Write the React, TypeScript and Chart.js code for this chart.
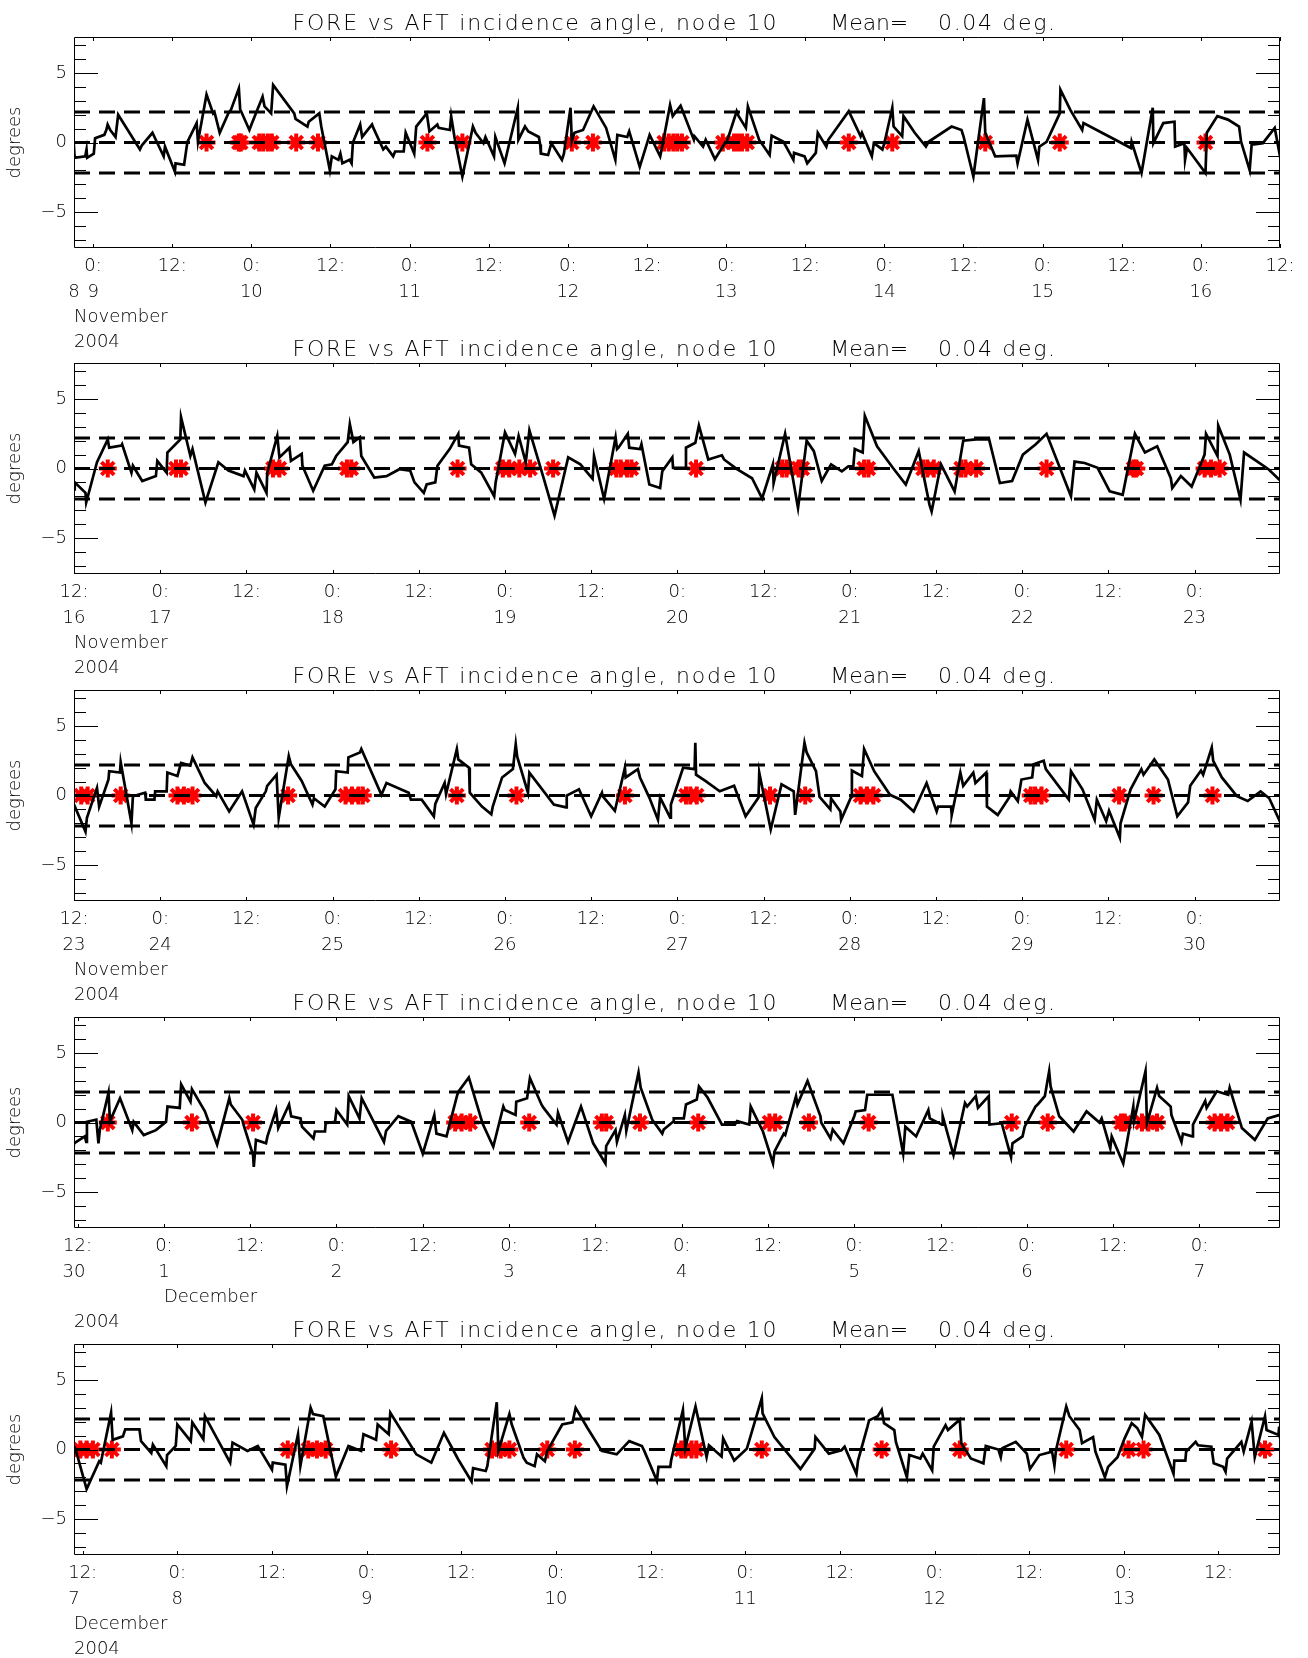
import { useEffect, useRef } from "react";
import { Chart, registerables } from "chart.js";

Chart.register(...registerables);

// ---------------- data (hours since 2004-11-08 00:00, degrees) ----------------
const p1Trace: [number, number][] = [
  [21.06, 0.0], [21.2, -1.1], [22.8, -1.0], [23.0, -0.5], [23.1, -1.1], [24.1, -0.8], [24.3, 0.3], [25.7, 0.55],
  [26.0, 0.9], [26.2, 1.3], [26.6, 0.9], [27.4, 0.4], [27.8, 2.0], [31.1, -0.5], [31.4, -0.2], [33.0, 0.7],
  [33.5, 0.2], [34.7, -1.0], [34.9, -0.3], [36.4, -2.1], [36.5, -1.5], [37.8, -1.6], [38.1, -0.6], [38.3, 0.05],
  [39.7, 1.4], [39.9, 0.05], [41.2, 3.45], [42.2, 2.1], [42.4, 2.2], [43.2, 0.7], [44.5, 2.1], [44.9, 2.35],
  [46.1, 3.9], [46.3, 2.4], [47.7, 0.9], [48.1, 1.4], [49.7, 3.3], [50.0, 2.6], [51.0, 2.1], [51.3, 4.15],
  [54.5, 2.1], [54.7, 1.7], [56.5, 1.15], [56.7, 1.5], [58.3, 2.1], [58.6, 1.15], [59.9, -2.0], [60.2, -1.0],
  [61.2, -1.25], [61.5, -0.8], [61.8, -1.5], [62.9, -1.25], [63.2, -1.5], [63.4, 0.0], [64.5, 1.3], [64.8, 0.4],
  [66.3, 1.3], [66.5, 1.05], [68.0, -0.5], [68.4, -0.3], [69.5, -1.0], [69.8, -0.65], [71.1, -0.65], [71.4, 0.7],
  [72.7, -0.8], [73.0, 1.15], [74.6, 2.1], [75.0, 0.8], [76.2, 1.3], [76.4, 1.05], [78.1, 0.9], [78.3, 1.9],
  [78.8, 0.4], [80.0, -2.45], [81.6, 1.15], [82.0, 0.7], [83.2, -0.05], [83.5, 0.4], [84.8, -1.0], [85.0, 0.4],
  [86.4, -1.5], [88.4, 2.5], [88.5, 0.2], [89.5, 1.15], [90.0, 0.8], [91.6, 0.4], [91.8, -0.15], [91.9, -0.8],
  [93.0, -0.9], [93.5, -0.05], [95.1, -1.25], [95.4, -0.8], [96.4, 2.5], [96.6, 0.1], [97.0, 0.7], [98.3, 0.9],
  [99.9, 2.6], [101.8, 1.05], [103.2, -1.25], [103.5, 0.55], [105.0, 0.4], [105.3, 0.8], [106.9, -1.75], [108.4, 0.55],
  [110.0, -1.0], [110.3, -0.3], [111.5, 2.7], [111.9, 1.9], [113.1, 2.65], [115.1, 0.2], [115.2, 0.45], [116.5, -0.3],
  [116.9, 0.2], [118.3, -1.2], [119.8, -0.05], [120.1, 0.05], [121.6, 2.25], [121.9, 1.9], [123.0, 1.05], [123.3, 2.6],
  [125.0, 0.2], [126.6, -0.9], [126.9, 0.5], [128.7, 0.05], [130.2, -1.25], [130.3, -0.75], [131.9, -1.0], [132.3, -1.5],
  [133.6, -0.75], [133.9, 0.7], [135.2, -0.3], [135.5, 0.2], [138.6, 2.25], [140.4, 0.45], [140.6, 0.7], [142.1, -1.0],
  [142.4, -0.05], [143.7, -0.5], [144.0, -0.05], [145.2, 2.5], [145.4, 1.15], [146.7, 0.45], [146.9, 1.9], [148.6, 0.7],
  [150.3, -0.3], [150.7, 0.05], [154.2, 1.15], [155.7, 0.9], [156.0, 0.45], [157.5, -2.45], [159.1, 3.2], [159.3, 0.7],
  [160.8, -1.0], [164.0, -0.95], [164.2, -1.5], [165.7, 1.65], [167.3, -1.25], [167.5, -0.3], [168.6, 0.05], [170.6, 2.1],
  [170.7, 3.8], [172.2, 2.35], [174.0, 0.9], [174.2, 1.4], [181.4, -0.4], [181.5, 0.05], [183.0, -2.2], [184.7, 2.5],
  [184.8, -0.05], [186.3, 1.4], [188.0, 1.5], [188.1, -0.3], [189.5, -0.05], [189.6, -1.25], [189.9, -0.4], [192.7, -2.2],
  [192.9, 0.7], [194.5, 1.9], [196.1, 1.65], [197.8, 1.15], [198.1, 0.05], [199.4, -2.0], [199.7, -0.15], [201.4, -0.05],
  [203.2, 1.05], [204.2, -1.5],
];
const p1Flags = [41.2, 46.1, 46.4, 49.2, 49.8, 50.5, 51.1, 54.8, 58.1, 74.7, 80.0, 96.6, 99.8, 110.6, 111.3, 112.0,
  112.6, 113.3, 119.5, 121.2, 121.8, 122.4, 123.2, 138.6, 145.2, 159.3, 170.6, 192.7];

const p2Trace: [number, number][] = [
  [204.0, -1.5], [204.1, -1.0], [205.6, -1.75], [205.7, -2.45], [207.2, 0.45], [208.7, 2.1], [208.9, 1.5], [210.6, 1.65],
  [210.7, 1.75], [212.0, -0.3], [212.2, 0.2], [213.5, -0.9], [215.4, -0.55], [215.6, 0.55], [216.9, -0.3], [217.0, 1.15],
  [218.8, 2.1], [218.9, 3.7], [220.2, 0.9], [220.5, 1.4], [222.3, -2.45], [224.1, 0.45], [225.5, -0.15], [227.6, -0.55],
  [227.8, -0.15], [229.1, -1.5], [229.4, -0.3], [230.8, -1.75], [230.9, -0.3], [232.3, 2.35], [232.6, 0.8], [234.0, 1.5],
  [234.2, 0.55], [235.7, 1.05], [235.8, 0.2], [237.3, -1.6], [238.9, 0.2], [239.9, 0.3], [240.5, 0.9], [242.1, 1.9],
  [242.4, 3.2], [242.9, 1.9], [243.8, 2.25], [244.0, 0.9], [245.8, -0.65], [247.5, -0.55], [249.3, -0.05], [250.8, -0.15],
  [251.4, -1.0], [252.7, -1.75], [253.1, -1.15], [254.3, -1.0], [254.6, 0.2], [256.3, 1.4], [257.5, 2.5], [257.6, 1.65],
  [259.0, 1.5], [259.3, 0.3], [260.7, -0.3], [262.5, -2.0], [262.7, -1.0], [264.0, 2.6], [265.4, 1.05], [265.9, 2.35],
  [266.9, 0.45], [267.4, 2.75], [269.3, -0.55], [270.9, -3.4], [272.8, 0.8], [274.5, 0.3], [276.2, -0.75], [276.4, 0.9],
  [277.8, -2.2], [279.4, 2.25], [279.6, 1.4], [279.8, 1.5], [281.1, 2.5], [281.3, 1.5], [282.8, 1.4], [283.0, 1.75],
  [284.1, -1.15], [285.6, -1.4], [285.9, -0.2], [287.3, 0.8], [287.4, 0.05], [289.1, 0.05], [289.2, 1.5], [290.5, 1.85],
  [291.0, 3.1], [292.3, 0.65], [294.2, 0.95], [294.5, 0.65], [296.3, -0.05], [298.4, -0.7], [299.8, -2.15], [301.3, 0.3],
  [301.4, -1.05], [303.0, 2.5], [304.8, -2.85], [306.0, 2.0], [307.0, 1.25], [308.1, -0.9], [309.4, 0.3], [310.9, -0.2],
  [311.8, 0.15], [312.5, 0.15], [312.7, 1.4], [313.8, 1.15], [314.1, 3.8], [315.8, 1.6], [318.0, 0.05], [319.8, -1.15],
  [321.6, 1.25], [323.1, -2.6], [323.4, -3.1], [324.5, -0.2], [324.7, 0.3], [326.6, -1.65], [327.8, 2.0], [329.6, 2.1],
  [331.4, 2.1], [332.9, -1.05], [334.6, -0.9], [336.1, 1.0], [337.9, 1.75], [339.4, 2.5], [342.8, -2.0], [343.3, 0.5],
  [344.7, 0.4], [346.5, 0.05], [348.2, -1.65], [350.0, -1.9], [351.7, 2.5], [353.1, 1.15], [354.8, 1.6], [356.7, -0.7],
  [356.9, -1.4], [358.1, -0.55], [359.6, -1.3], [361.4, 1.0], [361.6, 2.5], [363.2, 0.9], [363.3, 3.1], [364.9, 1.0],
  [366.4, -2.25], [366.9, 1.15], [370.3, -0.05], [371.8, -0.8], [372.0, -0.85],
];
const p2Flags = [208.7, 218.2, 218.9, 231.7, 232.6, 242.0, 242.6, 257.4, 263.7, 264.6, 266.0, 267.5, 270.7, 279.5,
  280.1, 281.0, 281.6, 290.6, 302.6, 303.2, 304.9, 305.4, 314.0, 314.6, 322.2, 322.8, 323.7, 327.5, 328.1, 329.6,
  339.4, 351.5, 351.9, 361.4, 362.3, 363.5];

const p3Trace: [number, number][] = [
  [372.0, -0.65], [373.6, -2.6], [373.8, -1.6], [375.2, 0.55], [375.5, -0.8], [376.8, 1.15], [376.9, 1.75], [378.4, 1.65],
  [378.5, 2.4], [380.0, -2.0], [380.2, -0.05], [381.9, 0.2], [382.0, -0.3], [383.2, -0.3], [383.3, 0.3], [384.9, 0.3],
  [385.0, 1.65], [386.4, 1.4], [386.9, 2.35], [388.2, 2.15], [388.5, 2.75], [390.2, 0.9], [391.8, -0.05], [392.0, 0.3],
  [393.6, -1.15], [395.4, 0.3], [397.0, -2.1], [397.3, -0.9], [398.7, 0.3], [398.9, 0.7], [400.2, 1.5], [400.5, -1.6],
  [401.9, 2.85], [402.2, 2.25], [403.7, 1.05], [405.2, -0.65], [405.4, -0.2], [406.9, -0.8], [408.4, 0.45], [408.5, 1.75],
  [410.1, 1.65], [410.2, 2.75], [411.8, 3.1], [412.0, 3.35], [414.8, 0.05], [415.5, 0.9], [418.6, 0.2], [418.9, -0.3],
  [420.4, -0.3], [422.1, -1.5], [422.3, -0.6], [423.6, 0.9], [423.8, 0.1], [425.3, 3.35], [425.5, 2.6], [427.0, 2.0],
  [427.1, 0.2], [428.8, -0.8], [430.1, -1.35], [430.3, -0.8], [431.6, 1.3], [433.1, 1.9], [433.5, 3.7], [433.7, 2.8],
  [435.2, 0.2], [435.4, 1.65], [438.8, -0.65], [440.5, -0.85], [440.6, 0.0], [442.3, 0.45], [444.0, -1.5], [445.5, 0.2],
  [445.6, -0.05], [447.3, -1.1], [448.7, 2.0], [448.8, 1.3], [450.5, 1.9], [450.8, 1.3], [452.1, -0.15], [453.3, -1.75],
  [453.6, -0.15], [455.0, -1.6], [455.1, -0.65], [456.8, 2.0], [458.4, 1.9], [458.5, 3.8], [458.6, 1.5], [459.9, 1.05],
  [461.9, 0.3], [463.9, 0.7], [465.5, -1.5], [467.3, -0.15], [467.4, 1.65], [469.0, -2.45], [470.5, 0.8], [472.2, 0.3],
  [472.4, -1.4], [473.7, 3.8], [474.0, 3.1], [475.3, 1.75], [475.8, -0.1], [477.3, -1.0], [477.4, -0.2], [478.7, -1.15],
  [478.8, -1.75], [480.2, -0.1], [480.3, 1.8], [481.7, 1.4], [482.0, 3.35], [483.4, 1.75], [485.6, 0.05], [487.1, -0.3],
  [488.9, -1.15], [490.7, 0.9], [492.1, -1.15], [492.3, -0.8], [494.1, -0.8], [494.2, -1.4], [495.4, 1.65], [495.8, 0.7],
  [497.2, 1.65], [497.5, 0.9], [499.0, 1.65], [499.1, -0.8], [500.6, -1.4], [502.2, -0.15], [502.4, 0.3], [503.4, -0.4],
  [503.9, 1.15], [505.4, 1.3], [505.6, 2.25], [507.0, 2.5], [507.3, 1.9], [510.5, -0.3], [510.8, 1.75], [512.4, 0.45],
  [514.1, -1.75], [514.4, -0.3], [515.7, -1.85], [516.1, -1.1], [517.6, -3.05], [517.7, -2.0], [519.1, 0.45], [520.6, 1.9],
  [520.9, 1.5], [522.4, 2.6], [524.3, 1.15], [525.6, -1.5], [527.1, -0.5], [527.4, 0.7], [528.9, 1.8], [529.2, 1.5],
  [530.4, 3.45], [530.6, 2.5], [531.8, 1.3], [533.9, -0.05], [535.4, -0.4], [537.2, 0.3], [538.4, -0.2], [540.0, -2.0],
];
const p3Flags = [373.0, 373.9, 378.5, 386.4, 387.3, 388.5, 401.8, 409.8, 410.7, 411.6, 412.2, 425.3, 433.6, 448.7,
  457.2, 457.8, 458.7, 468.9, 473.8, 481.5, 482.4, 483.3, 505.2, 505.8, 506.7, 517.5, 522.3, 530.5];

const p4Trace: [number, number][] = [
  [539.4, -2.1], [539.5, -1.5], [541.0, -1.0], [541.2, -1.4], [541.3, 0.05], [542.6, 0.2], [542.9, -1.5], [543.1, -0.5],
  [544.3, 2.15], [544.5, 0.1], [545.9, 1.75], [547.6, -0.55], [547.8, 0.05], [549.2, -0.9], [550.9, -0.55], [552.3, 0.05],
  [552.5, 1.15], [554.2, 1.05], [554.4, 2.75], [555.7, 1.5], [555.9, 2.4], [557.7, 0.8], [559.4, -1.6], [561.1, 1.75],
  [561.3, 1.3], [562.9, 0.2], [563.1, -0.2], [564.4, -2.35], [564.5, -3.2], [564.8, -1.25], [566.2, -1.5], [566.4, -1.0],
  [567.6, 0.9], [567.9, -0.4], [569.4, 1.3], [569.7, 0.45], [571.0, 0.3], [571.2, -0.3], [572.8, -1.15], [573.0, -0.65],
  [574.4, -0.65], [574.5, -0.05], [575.8, 0.05], [576.0, 0.9], [577.5, -0.15], [577.7, 1.9], [579.2, 0.3], [579.5, 1.75],
  [582.6, -1.4], [582.9, -0.6], [584.6, 0.45], [586.4, 0.05], [588.0, -2.25], [589.6, 0.55], [589.9, -0.8], [591.3, -1.0],
  [592.8, 2.0], [593.0, 2.25], [594.4, 3.25], [596.3, -0.05], [597.8, -1.75], [599.2, 1.15], [599.4, 0.9], [600.9, 0.55],
  [601.0, 1.5], [602.5, 1.75], [602.9, 3.2], [604.5, 1.3], [604.8, 1.05], [606.6, -0.15], [606.8, 0.7], [608.2, -1.4],
  [610.0, 1.15], [611.7, -1.5], [613.4, -2.95], [613.5, -1.7], [614.8, -0.55], [615.0, -1.4], [616.1, 0.55], [616.3, -0.6],
  [618.0, 3.6], [618.3, 2.5], [619.9, 0.2], [621.3, -0.8], [621.5, -0.5], [622.8, 0.05], [622.9, 0.3], [624.3, 0.3],
  [624.6, 1.3], [626.1, 1.65], [626.4, 2.6], [627.6, 1.8], [629.6, -0.15], [631.4, -0.15], [631.7, 0.1], [633.4, -0.15],
  [633.6, 1.15], [635.3, -0.65], [636.7, -2.95], [636.9, -2.1], [638.2, -0.8], [638.4, -0.9], [639.9, 1.9], [640.1, 1.3],
  [641.5, 3.0], [643.3, 0.45], [643.4, 0.0], [644.7, -1.15], [645.0, -0.5], [646.5, -1.5], [648.0, 0.45], [648.2, 0.8],
  [649.5, 0.9], [649.8, 2.0], [653.3, 2.0], [654.8, -2.25], [655.1, -0.3], [656.6, -1.0], [658.3, 0.9], [658.5, 0.3],
  [660.2, -0.15], [660.3, 0.45], [661.8, -2.35], [663.4, 1.4], [663.7, 1.15], [664.9, 1.9], [665.2, 1.05], [666.7, 1.9],
  [666.8, -0.15], [668.5, -0.05], [669.8, -2.5], [670.0, -1.5], [671.4, -1.0], [671.7, -0.3], [673.2, 1.15], [673.5, 1.3],
  [674.5, 1.9], [675.1, 3.7], [675.3, 2.6], [676.5, 0.45], [678.5, -0.65], [680.3, 0.8], [682.1, 0.0], [682.4, 0.3],
  [683.6, -1.85], [683.8, -1.0], [685.4, -2.95], [686.8, 1.15], [686.9, 0.1], [688.5, 3.7], [688.7, -0.05], [690.1, 2.5],
  [690.4, 1.9], [692.0, 1.15], [692.1, 0.55], [693.5, -1.4], [693.7, -0.8], [695.0, -1.0], [695.1, -0.15], [696.8, 1.55],
  [697.0, 1.05], [698.4, 2.25], [700.0, 2.0], [700.2, 2.5], [701.9, -0.4], [703.7, -1.25], [705.5, 0.3], [707.2, 0.55],
];
const p4Flags = [544.2, 555.9, 564.4, 592.5, 593.4, 594.6, 602.8, 612.9, 613.5, 618.2, 626.3, 636.2, 637.0, 641.7,
  650.0, 669.9, 674.9, 685.1, 685.6, 688.0, 688.9, 690.1, 698.1, 699.0, 699.9];

const p5Trace: [number, number][] = [
  [706.9, 0.25], [707.1, 0.0], [708.5, -2.85], [710.1, -0.85], [710.3, -0.95], [711.6, 2.65], [711.8, 0.7], [713.1, 0.95],
  [713.4, 1.45], [715.2, 1.45], [715.4, 0.6], [716.7, -0.25], [716.9, 0.35], [718.6, -1.2], [718.7, -0.4], [719.8, 0.25],
  [720.0, 1.8], [721.7, 0.6], [721.9, 1.95], [723.3, 0.75], [723.5, 2.4], [726.7, -0.95], [727.0, 0.5], [728.9, -0.1],
  [730.2, 0.25], [732.0, -1.45], [732.1, -0.95], [733.7, -1.1], [733.9, -2.65], [735.3, 1.1], [735.6, -1.2], [736.9, 3.0],
  [737.2, 2.55], [738.5, 2.4], [740.1, -1.95], [741.7, 0.25], [743.3, -0.1], [743.6, 1.1], [745.2, 0.7], [745.4, 1.8],
  [746.8, 1.1], [747.0, 2.65], [750.3, -0.35], [752.2, -0.95], [753.8, 1.2], [755.6, -0.7], [757.3, -2.3], [757.5, -1.35],
  [759.1, -1.55], [759.3, -1.2], [760.5, 3.4], [760.7, -0.1], [762.1, 2.55], [762.4, 1.8], [763.9, -0.6], [764.3, -0.95],
  [765.3, -1.2], [765.6, -0.35], [766.6, -0.85], [766.9, -0.1], [768.8, 1.8], [770.1, 1.95], [770.5, 3.0], [772.0, 1.55],
  [773.8, -0.1], [775.7, -0.35], [777.3, 0.6], [778.9, 0.25], [779.2, -0.1], [780.8, -2.25], [781.0, -1.25], [782.5, -1.25],
  [782.6, -0.8], [784.1, 2.85], [784.4, 0.1], [785.7, 3.1], [787.1, -0.55], [787.4, 0.3], [789.0, -0.5], [789.2, 0.8],
  [790.6, -0.8], [792.2, 0.05], [794.1, 3.7], [794.2, 2.6], [795.7, 0.9], [799.0, -1.4], [800.8, 0.05], [800.9, 0.9],
  [802.6, -0.3], [804.2, -0.05], [804.6, 0.2], [806.1, -1.75], [806.3, -0.8], [807.5, 1.65], [807.7, 2.1], [808.8, 2.4],
  [809.3, 2.85], [809.6, 1.9], [810.9, 1.4], [811.1, 0.55], [812.5, -2.0], [812.8, -0.4], [814.2, -0.65], [814.5, -0.3],
  [815.7, -1.5], [815.9, 0.2], [817.4, 1.75], [817.7, 1.4], [819.2, 2.15], [819.4, 0.45], [820.6, -0.65], [822.2, -1.0],
  [822.5, 0.25], [824.1, 0.0], [824.4, -0.55], [824.6, 0.1], [826.3, 0.55], [827.7, -0.3], [828.1, -1.4], [829.3, -0.4],
  [830.9, -0.15], [831.2, -1.15], [831.4, -0.05], [832.7, 3.1], [833.1, 2.4], [834.4, 1.4], [834.7, 0.45], [836.1, 0.9],
  [836.4, -0.15], [837.6, -2.0], [838.0, -1.25], [839.2, -0.55], [840.1, 0.8], [841.0, 1.9], [841.7, 1.55], [842.3, 0.9],
  [842.7, 2.5], [844.5, 1.05], [846.3, -1.75], [846.4, -0.8], [847.8, -0.8], [847.9, -0.15], [849.1, 0.55], [849.4, 0.3],
  [851.1, 0.2], [851.4, -1.0], [852.6, -1.25], [852.9, -1.6], [853.1, -0.65], [854.9, 0.55], [855.2, -0.15], [856.2, 2.0],
  [856.6, -0.55], [857.9, 2.4], [858.1, 1.4], [859.6, 1.05], [859.7, 1.65], [859.8, 0.8],
];
const p5Flags = [707.7, 708.5, 709.3, 711.7, 734.0, 736.6, 737.7, 738.8, 747.1, 759.9, 761.0, 762.1, 766.9, 770.4,
  783.9, 784.4, 785.2, 785.8, 794.1, 809.3, 819.2, 832.7, 840.6, 842.5, 857.9];

const panelStart = [21.1, 204, 372, 539.5, 706.9];
const panelEnd = [204, 371.9, 539.9, 707.2, 859.8];
const monthText = ["November", "November", "November", "December", "December"];
const monthAt = [21.1, 204, 372, 552, 706.9];
const yearText = "2004";
const refLevels = [2.2, 0, -2.2];
const yTickValues = [-5, 0, 5];
const yMinorValues = [-7, -6, -5, -4, -3, -2, -1, 0, 1, 2, 3, 4, 5, 6, 7];
const titleParts = ["FORE vs AFT incidence angle, node 10", "Mean=", "0.04 deg."];
const yTitle = "degrees";

const traces = [p1Trace, p2Trace, p3Trace, p4Trace, p5Trace];
const flags = [p1Flags, p2Flags, p3Flags, p4Flags, p5Flags];

// ---------------- layout / style ----------------
const FONT = "'DejaVu Sans', sans-serif";
const WEIGHT = "200";
const CANVAS_H = 360;
const canvasTops = [0, 326, 653, 980, 1307];
const titleLayout = [
  { x: 292.6, w: 484 },
  { x: 830.3, w: 78 },
  { x: 938, w: 117 },
];

function dayOfMonth(h: number): number {
  const d = 8 + Math.floor(h / 24 + 1e-6);
  return d > 30 ? d - 30 : d;
}

function makePlugin(idx: number) {
  return {
    id: "idlFrame" + idx,
    afterDraw(chart: any) {
      const { ctx, chartArea: a, scales } = chart;
      const x = scales.x;
      const y = scales.y;
      ctx.save();
      ctx.strokeStyle = "#000";
      ctx.lineWidth = 1;
      ctx.beginPath();
      ctx.rect(a.left + 0.5, a.top + 0.5, a.right - a.left - 1, a.bottom - a.top - 1);
      ctx.stroke();
      // y ticks (inward, both sides)
      ctx.beginPath();
      for (const v of yMinorValues) {
        const py = Math.round(y.getPixelForValue(v)) + 0.5;
        const len = v % 5 === 0 ? 24 : 12;
        ctx.moveTo(a.left, py);
        ctx.lineTo(a.left + len, py);
        ctx.moveTo(a.right, py);
        ctx.lineTo(a.right - len, py);
      }
      // x ticks (inward, top and bottom)
      for (const t of x.ticks) {
        const px = Math.round(x.getPixelForValue(t.value)) + 0.5;
        ctx.moveTo(px, a.top);
        ctx.lineTo(px, a.top + 4);
        ctx.moveTo(px, a.bottom);
        ctx.lineTo(px, a.bottom - 4);
      }
      ctx.stroke();

      // date rows
      ctx.fillStyle = "#000";
      ctx.font = `${WEIGHT} 18px ${FONT}`;
      ctx.textBaseline = "middle";
      ctx.textAlign = "center";
      ctx.fillText(String(dayOfMonth(panelStart[idx])), a.left, a.bottom + 44.5);
      ctx.textAlign = "left";
      ctx.fillText(monthText[idx], x.getPixelForValue(monthAt[idx]), a.bottom + 69.5);
      ctx.fillText(yearText, a.left, a.bottom + 94.5);

      // title
      ctx.font = `${WEIGHT} 22px ${FONT}`;
      ctx.textBaseline = "alphabetic";
      ctx.textAlign = "left";
      titleParts.forEach((s, i) => {
        (ctx as any).letterSpacing = "0px";
        const w = ctx.measureText(s).width;
        const sp = (titleLayout[i].w - w) / Math.max(1, s.length - 1);
        (ctx as any).letterSpacing = `${sp}px`;
        ctx.fillText(s, titleLayout[i].x, a.top - 7.5);
      });
      (ctx as any).letterSpacing = "0px";
      ctx.restore();
    },
  };
}

function Panel({ idx }: { idx: number }) {
  const ref = useRef<HTMLCanvasElement | null>(null);
  useEffect(() => {
    if (!ref.current) return;
    const min = panelStart[idx];
    const max = panelEnd[idx];
    const lineData = traces[idx].map(([t, v]) => ({ x: t, y: v }));
    const flagData = flags[idx].map((t) => ({ x: t, y: 0 }));
    const refSets = refLevels.map((lv) => ({
      type: "line" as const,
      data: [{ x: min, y: lv }, { x: max, y: lv }],
      borderColor: "#000",
      borderWidth: 3,
      borderDash: [16, 9],
      pointRadius: 0,
      fill: false,
    }));
    const chart = new Chart(ref.current, {
      type: "line",
      data: {
        datasets: [
          {
            data: lineData,
            borderColor: "#000",
            borderWidth: 2.7,
            pointRadius: 0,
            tension: 0,
            fill: false,
          },
          ...refSets,
          {
            data: flagData,
            showLine: false,
            pointStyle: "star",
            pointRadius: 9,
            pointBorderWidth: 4,
            pointBorderColor: "#ff0000",
            borderColor: "#ff0000",
            backgroundColor: "#ff0000",
          },
        ] as any,
      },
      options: {
        animation: false,
        responsive: false,
        events: [],
        layout: { padding: { top: 37, right: 28, left: 0, bottom: 0 } },
        plugins: { legend: { display: false }, tooltip: { enabled: false }, title: { display: false } },
        scales: {
          x: {
            type: "linear",
            min,
            max,
            grid: { display: false, drawTicks: false },
            border: { display: false },
            afterBuildTicks: (s: any) => {
              const ticks = [];
              for (let h = Math.ceil(min / 12 - 1e-6) * 12; h <= max + 1e-6; h += 12) ticks.push({ value: h });
              s.ticks = ticks;
            },
            afterFit: (s: any) => {
              s.height = CANVAS_H - 37 - 211;
            },
            ticks: {
              autoSkip: false,
              maxRotation: 0,
              minRotation: 0,
              padding: 6,
              color: "#000",
              font: { family: FONT, size: 18, weight: WEIGHT as any, lineHeight: 25.5 / 18 },
              callback: (value: any) => {
                const v = Number(value);
                const hod = ((v % 24) + 24) % 24;
                if (Math.abs(hod) < 0.01 || Math.abs(hod - 24) < 0.01) return ["0:", String(dayOfMonth(v))];
                return "12:";
              },
            },
          },
          y: {
            type: "linear",
            min: -7.6,
            max: 7.6,
            grid: { display: false, drawTicks: false },
            border: { display: false },
            afterBuildTicks: (s: any) => {
              s.ticks = yTickValues.map((v) => ({ value: v }));
            },
            afterFit: (s: any) => {
              s.width = 74;
            },
            title: {
              display: true,
              text: yTitle,
              color: "#000",
              font: { family: FONT, size: 18, weight: WEIGHT as any },
              padding: { top: 5, bottom: 0 },
            },
            ticks: {
              padding: 7,
              color: "#000",
              font: { family: FONT, size: 18, weight: WEIGHT as any },
              callback: (value: any) => {
                const v = Number(value);
                return v < 0 ? "\u2212" + String(-v) : String(v);
              },
            },
          },
        },
      },
      plugins: [makePlugin(idx)],
    });
    return () => chart.destroy();
  }, [idx]);
  return (
    <canvas
      ref={ref}
      width={1308}
      height={CANVAS_H}
      style={{ position: "absolute", left: 0, top: canvasTops[idx], width: 1308, height: CANVAS_H }}
    />
  );
}

export default function App() {
  return (
    <div
      style={{
        position: "absolute",
        left: 0,
        top: 0,
        width: 1308,
        height: 1658,
        overflow: "hidden",
        background: "#fff",
      }}
    >
      {[0, 1, 2, 3, 4].map((i) => (
        <Panel key={i} idx={i} />
      ))}
    </div>
  );
}
